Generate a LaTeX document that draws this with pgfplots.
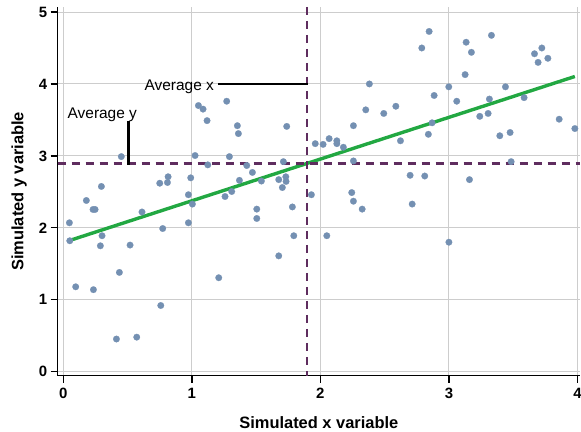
\documentclass[border=0pt]{standalone}
\usepackage{pgfplots}
\pgfplotsset{compat=1.18}
\usepackage{fontspec}
\setmainfont{Liberation Sans}
\definecolor{ptcol}{RGB}{116,144,178}
\definecolor{fitgreen}{RGB}{34,168,66}
\definecolor{avgpurple}{RGB}{95,45,95}
\definecolor{gridgray}{RGB}{205,205,205}
\begin{document}
\begin{tikzpicture}
\path[use as bounding box] (0,0) rectangle (581bp,432bp);
\begin{axis}[
  at={(57.7bp,56.3bp)}, anchor=south west,
  scale only axis, width=522.3bp, height=368.7bp,
  xmin=-0.044, xmax=4.02, ymin=-0.056, ymax=5.07,
  axis x line*=bottom, axis y line*=left,
  axis line style={black, line width=1.3bp, -},
  xtick={0,1,2,3,4}, ytick={0,1,2,3,4,5},
  tick align=outside, major tick length=7bp,
  tick style={black, line width=1.3bp},
  grid=major, major grid style={gridgray, line width=1bp},
  ticklabel style={font=\bfseries\fontsize{15}{18}\selectfont},
  xticklabel style={yshift=-2bp},
  /pgf/number format/assume math mode=true,
  xlabel={Simulated x variable}, ylabel={Simulated y variable},
  label style={font=\bfseries\fontsize{16.5}{20}\selectfont},
  xlabel style={at={(axis description cs:0.5,-0.1445)}, anchor=base, inner sep=0pt},
  ylabel style={at={(axis description cs:-0.0525,0.5)}, anchor=south},
]
\addplot[only marks, mark=*, color=ptcol, mark size=3.3pt, mark options={draw=ptcol, fill=ptcol, line width=0.2pt}] table {
x y
0.047 2.07
0.05 1.82
0.096 1.18
0.179 2.38
0.231 2.255
0.247 2.255
0.234 1.14
0.288 1.75
0.296 2.575
0.301 1.89
0.413 0.454
0.436 1.38
0.451 2.99
0.519 1.76
0.571 0.48
0.612 2.22
0.75 2.62
0.758 0.92
0.773 1.99
0.81 2.63
0.815 2.71
0.973 2.46
0.973 2.07
0.991 2.695
1.004 2.33
1.025 3.005
1.051 3.70
1.087 3.65
1.118 3.49
1.124 2.875
1.209 1.306
1.258 2.435
1.271 3.76
1.292 2.99
1.31 2.505
1.354 3.42
1.362 3.31
1.370 2.66
1.427 2.866
1.471 2.77
1.505 2.26
1.505 2.13
1.541 2.65
1.676 2.67
1.676 1.61
1.704 2.56
1.712 2.92
1.731 2.71
1.733 2.645
1.738 3.41
1.782 2.29
1.793 1.89
1.93 2.46
1.96 3.17
2.021 3.16
2.05 1.89
2.068 3.24
2.128 3.21
2.128 3.17
2.179 3.12
2.244 2.49
2.257 2.37
2.257 2.93
2.257 3.42
2.325 2.26
2.353 3.64
2.381 4.00
2.493 3.59
2.587 3.69
2.623 3.21
2.698 2.73
2.714 2.33
2.789 4.50
2.812 2.72
2.84 3.30
2.846 4.73
2.869 3.46
2.885 3.84
3.0 1.80
2.999 3.96
3.061 3.76
3.126 4.13
3.134 4.58
3.16 2.67
3.175 4.44
3.24 3.55
3.305 3.59
3.315 3.79
3.331 4.676
3.396 3.28
3.44 3.96
3.476 3.325
3.484 2.92
3.585 3.81
3.666 4.42
3.694 4.30
3.723 4.50
3.77 4.357
3.858 3.51
3.98 3.38
};
\addplot[fitgreen, line width=3.4bp] coordinates {(0.04,1.819) (3.98,4.104)};
\addplot[avgpurple, line width=2.3bp, dash pattern=on 8.5bp off 5.5bp] coordinates {(-0.044,2.894) (4.02,2.894)};
\addplot[avgpurple, line width=2.3bp, dash pattern=on 8.5bp off 5.5bp] coordinates {(1.894,5.07) (1.894,-0.056)};
\addplot[black, line width=2.8bp] coordinates {(1.206,4.0) (1.905,4.0)};
\addplot[black, line width=2.8bp] coordinates {(0.504,3.49) (0.504,2.88)};
\node[anchor=base, inner sep=0pt, font=\fontsize{15.5}{18}\selectfont] at (axis cs:0.902,3.91) {Average x};
\node[anchor=base, inner sep=0pt, font=\fontsize{15.5}{18}\selectfont] at (axis cs:0.303,3.52) {Average y};
\end{axis}
\end{tikzpicture}
\end{document}
